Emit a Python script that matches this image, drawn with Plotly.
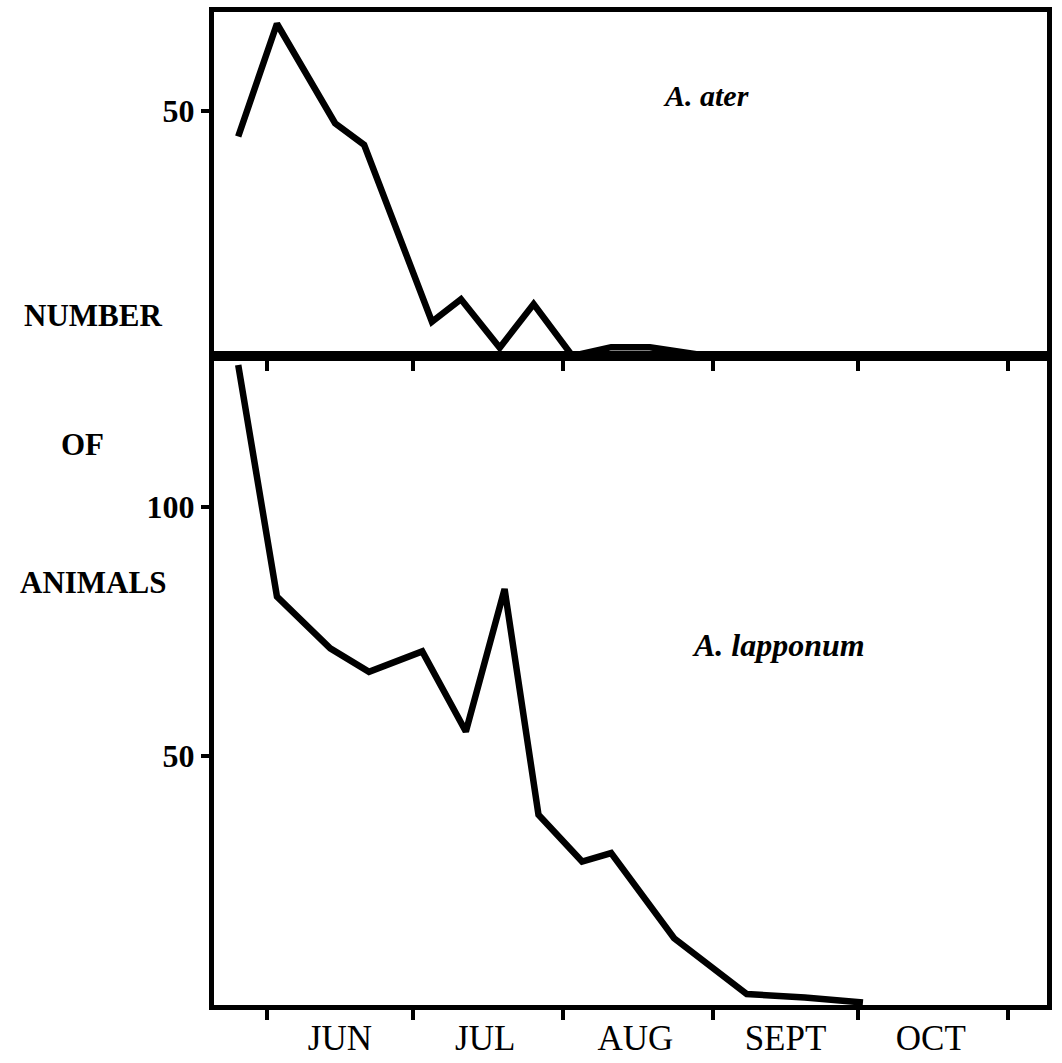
import plotly.graph_objects as go

# A. ater (top panel) - sampling dates and counts
ater_dates = ['1978-05-26', '1978-06-03', '1978-06-15', '1978-06-21', '1978-07-05',
              '1978-07-11', '1978-07-19', '1978-07-26', '1978-08-03', '1978-08-11',
              '1978-08-19', '1978-08-25', '1978-08-31']
ater_counts = [44.8, 67.8, 47.5, 43.1, 7.0, 11.6, 1.7, 10.6, 0, 1.8, 1.8, 1.0, 0]

# A. lapponum (bottom panel)
lapp_dates = ['1978-05-26', '1978-06-03', '1978-06-14', '1978-06-22', '1978-07-03',
              '1978-07-12', '1978-07-20', '1978-07-27', '1978-08-05', '1978-08-11',
              '1978-08-24', '1978-09-08', '1978-09-20', '1978-10-02']
lapp_counts = [128.5, 82.0, 71.6, 66.9, 71.0, 54.9, 83.5, 38.2, 28.8, 30.5,
               13.4, 2.2, 1.5, 0.5]

# month boundaries (ticks) and month label positions
month_starts = ['1978-06-01', '1978-07-01', '1978-08-01', '1978-09-01',
                '1978-10-01', '1978-11-01']
month_mids = ['1978-06-16', '1978-07-16', '1978-08-16', '1978-09-16', '1978-10-16']
month_labels = ['JUN', 'JUL', 'AUG', 'SEPT', 'OCT']

x_range = ['1978-05-21', '1978-11-09']

serif = 'Liberation Serif'
split = 649 / 993

fig = go.Figure()

fig.add_trace(go.Scatter(x=lapp_dates, y=lapp_counts, mode='lines',
                         line=dict(color='black', width=6.5),
                         xaxis='x', yaxis='y', showlegend=False))
fig.add_trace(go.Scatter(x=ater_dates, y=ater_counts, mode='lines',
                         line=dict(color='black', width=6.5),
                         xaxis='x2', yaxis='y2', showlegend=False))

axis_style = dict(showline=True, linecolor='black', linewidth=5, mirror=True,
                  showgrid=False, zeroline=False, automargin=False)

fig.update_layout(
    width=1062, height=1063,
    margin=dict(l=214, r=15, t=12, b=58),
    paper_bgcolor='white', plot_bgcolor='white',
    font=dict(family=serif, color='black'),
    xaxis=dict(type='date', range=x_range, anchor='y',
               tickmode='array', tickvals=month_mids, ticktext=month_labels,
               ticks='', ticklabelstandoff=-2,
               tickfont=dict(family=serif, size=35),
               minor=dict(ticks='outside', ticklen=10, tickwidth=4,
                          tickcolor='black', dtick='M1', tick0='1978-06-01',
                          showgrid=False),
               **axis_style),
    xaxis2=dict(type='date', range=x_range, anchor='y2', matches='x',
                tickmode='array', tickvals=month_starts, showticklabels=False,
                ticks='outside', ticklen=10, tickwidth=4, tickcolor='black',
                **axis_style),
    yaxis=dict(domain=[0, split], range=[0, 130.3], anchor='x',
               tickmode='array', tickvals=[50, 100],
               ticks='outside', ticklen=8, tickwidth=4, tickcolor='black',
               tickfont=dict(family=serif, size=32, weight='bold'),
               **axis_style),
    yaxis2=dict(domain=[split, 1], range=[0, 70.2], anchor='x2',
                tickmode='array', tickvals=[50],
                ticks='outside', ticklen=8, tickwidth=4, tickcolor='black',
                tickfont=dict(family=serif, size=32, weight='bold'),
                **axis_style),
)

# y-axis title written as three separate words
for word, xp, yp in [('NUMBER', 93, 315), ('OF', 82, 445), ('ANIMALS', 93, 582)]:
    fig.add_annotation(text='<b>' + word + '</b>', xref='paper', yref='paper',
                       x=(xp - 214) / 833, y=(1005 - yp) / 993,
                       showarrow=False, xanchor='center', yanchor='middle',
                       font=dict(family=serif, size=31))

fig.add_annotation(text='<b><i>A. ater</i></b>', xref='paper', yref='paper',
                   x=(706 - 214) / 833, y=(1005 - 95) / 993,
                   showarrow=False, xanchor='center', yanchor='middle',
                   font=dict(family=serif, size=30))
fig.add_annotation(text='<b><i>A. lapponum</i></b>', xref='paper', yref='paper',
                   x=(778 - 214) / 833, y=(1005 - 645) / 993,
                   showarrow=False, xanchor='center', yanchor='middle',
                   font=dict(family=serif, size=32))

# drop the default page margin so the figure fills the window exactly
fig.write_html("out.html", config={'displayModeBar': False},
               post_script="document.body.style.margin='0';"
                           "document.body.style.overflow='hidden';")
